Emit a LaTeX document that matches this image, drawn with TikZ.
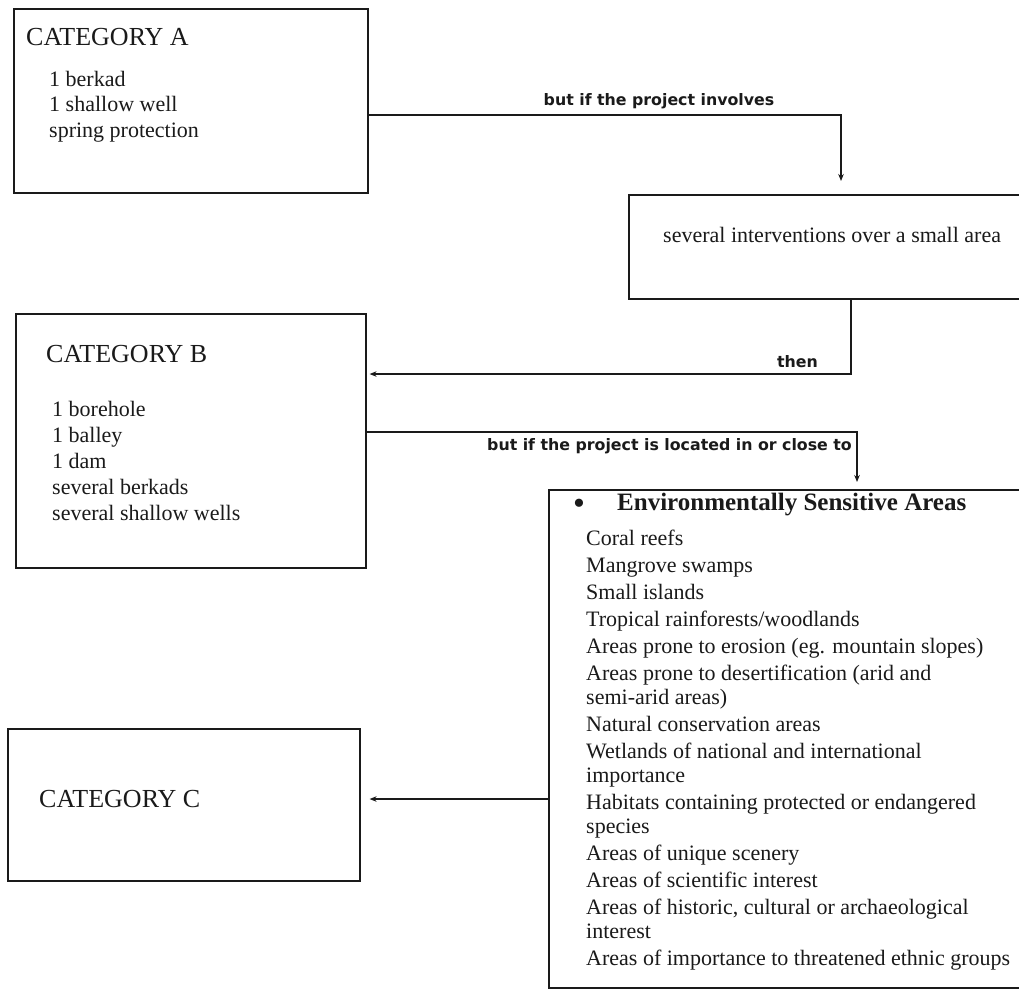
\documentclass[tikz,border=0pt]{standalone}
\usepackage{fontspec}
\setmainfont{Liberation Serif}
\newfontfamily\labfont{DejaVu Sans}
\usetikzlibrary{arrows.meta}
\definecolor{ink}{HTML}{1A1A1A}
\begin{document}
\begin{tikzpicture}[x=1pt,y=-1pt,
  box/.style={draw=ink, line width=1.6pt, inner sep=0pt, anchor=north west},
  ttl/.style={anchor=base west, inner sep=0pt, text=ink, font=\fontsize{26}{30}\selectfont},
  itm/.style={anchor=base west, inner sep=0pt, text=ink, font=\fontsize{22}{26}\selectfont},
  lab/.style={inner sep=0pt, text=ink, font=\labfont\bfseries\fontsize{15.8}{19}\selectfont},
  conn/.style={draw=ink, line width=1.6pt, -{Stealth[length=7pt,width=5.5pt]}}]
\useasboundingbox (0,0) rectangle (1019,989);
\fill[white] (0,0) rectangle (1019,989);

% boxes
\node[box, minimum width=354pt, minimum height=184pt] (A) at (13,8) {};
\node[box, minimum width=394pt, minimum height=104pt] (I) at (628,194) {};
\node[box, minimum width=350pt, minimum height=254pt] (B) at (15,313) {};
\node[box, minimum width=474pt, minimum height=498pt] (E) at (548,489) {};
\node[box, minimum width=352pt, minimum height=152pt] (C) at (7,728) {};

% box texts
\node[ttl] (tA) at (26,45) {CATEGORY A};
\foreach \y/\t [count=\i] in {86/1 berkad,111/1 shallow well,137/spring protection}
  \node[itm] (a\i) at (49,\y) {\t};

\node[itm] (tI) at (663,242) {several interventions over a small area};

\node[ttl] (tB) at (46,362) {CATEGORY B};
\foreach \y/\t [count=\i] in {416/1 borehole,442/1 balley,468/1 dam,494/several berkads,520/several shallow wells}
  \node[itm] (b\i) at (52,\y) {\t};

\node[ttl] (tC) at (39,807) {CATEGORY C};

\node[itm, font=\fontsize{34}{34}\selectfont] (bul) at (573,514) {\textbullet};
\node[itm, font=\bfseries\fontsize{25}{30}\selectfont] (tE) at (617,510) {Environmentally Sensitive Areas};
\foreach \y/\t [count=\i] in {
  545/{Coral reefs},
  572/{Mangrove swamps},
  599/{Small islands},
  626/{Tropical rainforests/woodlands},
  653/{Areas prone to erosion (eg. mountain slopes)},
  680/{Areas prone to desertification (arid and},
  704/{semi-arid areas)},
  731/{Natural conservation areas},
  758/{Wetlands of national and international},
  782/{importance},
  809/{Habitats containing protected or endangered},
  833/{species},
  860/{Areas of unique scenery},
  887/{Areas of scientific interest},
  914/{Areas of historic, cultural or archaeological},
  938/{interest},
  965/{Areas of importance to threatened ethnic groups}}
  \node[itm] (e\i) at (586,\y) {\t};

% connector labels
\node[lab, anchor=base] (l1) at (659,105) {but if the project involves};
\node[lab, anchor=base east] (l2) at (818,367) {then};
\node[lab, anchor=base east] (l3) at (852,450) {but if the project is located in or close to};

% connectors
\coordinate (j1) at (841,115);
\coordinate (j2) at (851,374);
\coordinate (j3) at (857,432);
\coordinate (j4) at (548,799);
\draw[conn, shorten >=13pt] (A.east |- j1) -- (j1) -- (I.north -| j1);
\draw[conn, shorten >=3pt] (I.south -| j2) -- (j2) -- (B.east |- j2);
\draw[conn, shorten >=7pt] (B.east |- j3) -- (j3) -- (E.north -| j3);
\draw[conn, shorten >=9pt] (E.west |- j4) -- (C.east |- j4);
\end{tikzpicture}
\end{document}
